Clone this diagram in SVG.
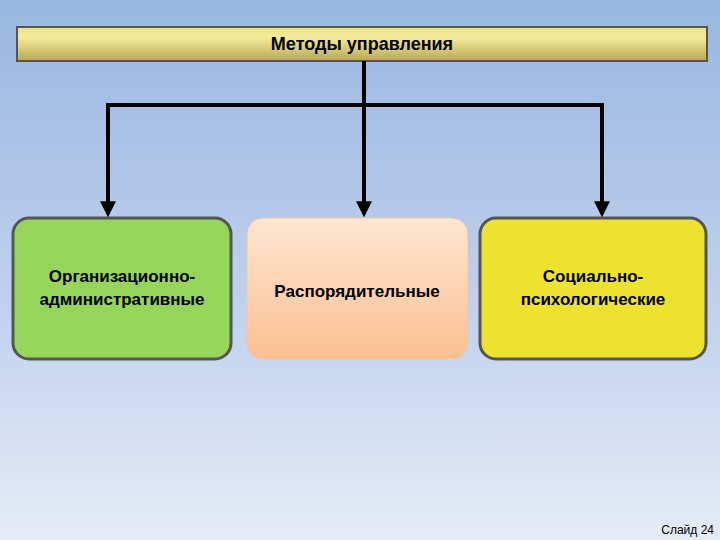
<svg xmlns="http://www.w3.org/2000/svg" width="720" height="540" viewBox="0 0 720 540">
<defs>
<linearGradient id="bg" x1="0" y1="0" x2="0" y2="1"><stop offset="0" stop-color="#98b6e0"/><stop offset="0.6" stop-color="#c3d3ee"/><stop offset="1" stop-color="#e6ecf7"/></linearGradient>
<linearGradient id="gold" x1="0" y1="0" x2="0" y2="1"><stop offset="0" stop-color="#e8df8a"/><stop offset="0.3" stop-color="#f4ec9c"/><stop offset="1" stop-color="#b8a850"/></linearGradient>
<linearGradient id="peach" x1="0" y1="0" x2="0" y2="1"><stop offset="0" stop-color="#fde6d2"/><stop offset="1" stop-color="#fbc090"/></linearGradient>
<marker id="ah" viewBox="0 0 10 10" refX="8" refY="5" markerWidth="4" markerHeight="4" orient="auto"><path d="M0,0 L10,5 L0,10 z" fill="#000"/></marker>
</defs>
<style>
.t{font-family:"Liberation Sans",Arial,sans-serif;font-size:17px;font-weight:bold;fill:#000;text-anchor:middle}
.c{stroke:#000;stroke-width:4;fill:none}
</style>
<rect width="720" height="540" fill="url(#bg)"/>
<g id="top"><rect x="17" y="27" width="690" height="34" fill="url(#gold)" stroke="#555" stroke-width="2"/><text class="t" x="362" y="50" style="font-size:18px">Методы управления</text></g>
<g id="n1"><rect x="13" y="218" width="218" height="141" rx="16" fill="#95d65a" stroke="#555" stroke-width="3"/><text class="t" x="122" y="282">Организационно-</text><text class="t" x="122" y="305">административные</text></g>
<g id="n2"><rect x="247" y="218" width="221" height="141" rx="16" fill="url(#peach)" stroke="#e9c7a9" stroke-width="1"/><text class="t" x="357" y="297">Распорядительные</text></g>
<g id="n3"><rect x="480" y="218" width="226" height="141" rx="16" fill="#ede22e" stroke="#555" stroke-width="3"/><text class="t" x="593" y="282">Социально-</text><text class="t" x="593" y="305">психологические</text></g>
<g id="connectors">
<path class="c" d="M364,61 V214" marker-end="url(#ah)"/>
<path class="c" d="M108,214 V105 H602 V214" marker-end="url(#ah)"/>
<path class="c" d="M108,105 V214" marker-end="url(#ah)"/>
</g>
<text x="714" y="534" style="font-family:'Liberation Sans',Arial,sans-serif;font-size:12px;text-anchor:end">Слайд 24</text>
</svg>
